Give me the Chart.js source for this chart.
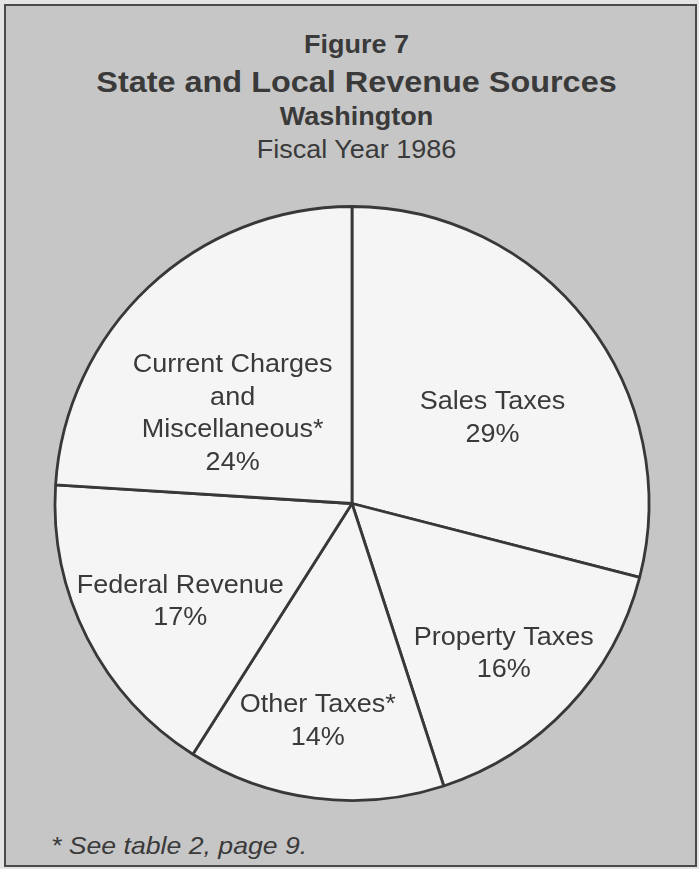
<!DOCTYPE html>
<html>
<head>
<meta charset="utf-8">
<script src="https://cdn.jsdelivr.net/npm/chart.js@4.4.1/dist/chart.umd.min.js"></script>
<style>
  html, body { margin: 0; padding: 0; }
  body { width: 699px; height: 869px; background: #e4e4e4; position: relative; overflow: hidden;
         font-family: "Liberation Sans", Arial, Helvetica, sans-serif; color: #3a3a3a; }
  .frame { position: absolute; left: 4px; top: 4px; width: 689px; height: 859px;
           border: 2px solid #4a4a4a; background: #c6c6c6; }
  .head { position: absolute; left: 7px; width: 699px; text-align: center; white-space: nowrap;
          line-height: 1; transform: scaleX(1.08); transform-origin: 50% 50%; }
  #fig { top: 32px; font-weight: bold; font-size: 25px; }
  #ttl { top: 67px; font-weight: bold; font-size: 30px; }
  #loc { top: 104px; font-weight: bold; font-size: 25px; }
  #yr  { top: 137px; font-size: 25px; }
  #note { position: absolute; left: 51px; top: 834px; font-style: italic; font-size: 24px;
          line-height: 1; white-space: nowrap; transform: scaleX(1.11); transform-origin: 0 50%; }
  #wrap { position: absolute; left: 0; top: 0; width: 699px; height: 869px; }
</style>
</head>
<body>
<div class="frame"></div>
<div class="head" id="fig">Figure 7</div>
<div class="head" id="ttl">State and Local Revenue Sources</div>
<div class="head" id="loc">Washington</div>
<div class="head" id="yr">Fiscal Year 1986</div>
<div id="note">* See table 2, page 9.</div>
<div id="wrap"><canvas id="pie"></canvas></div>
<script>
// Revenue shares, percent of total (clockwise from 12 o'clock)
const categories = ["Sales Taxes", "Property Taxes", "Other Taxes*", "Federal Revenue", "Current Charges and Miscellaneous*"];
const shares = [29, 16, 14, 17, 24];
// Text lines printed inside each slice (the share is added as the last line)
const labelLines = [
  ["Sales Taxes"],
  ["Property Taxes"],
  ["Other Taxes*"],
  ["Federal Revenue"],
  ["Current Charges", "and", "Miscellaneous*"]
];
// Where each slice's text block sits: angle shift from the slice middle (deg) and fraction of radius
const labelPlace = [
  { dAngle: 5.4,  r: 0.56 },
  { dAngle: 0.8,  r: 0.71 },
  { dAngle: 1.9,  r: 0.73 },
  { dAngle: -1.8, r: 0.66 },
  { dAngle: -8.8, r: 0.51 }
];

const sliceText = {
  id: 'sliceText',
  afterDatasetsDraw(chart) {
    const ctx = chart.ctx;
    const meta = chart.getDatasetMeta(0);
    const lineH = 32.5;
    ctx.save();
    ctx.fillStyle = '#3a3a3a';
    ctx.font = '25px "Liberation Sans", Arial, sans-serif';
    ctx.textAlign = 'center';
    ctx.textBaseline = 'alphabetic';
    meta.data.forEach((arc, i) => {
      const p = arc.getProps(['x', 'y', 'startAngle', 'endAngle', 'outerRadius'], true);
      const mid = (p.startAngle + p.endAngle) / 2 + labelPlace[i].dAngle * Math.PI / 180;
      const rr = p.outerRadius * labelPlace[i].r;
      const cx = p.x + Math.cos(mid) * rr;
      const cy = p.y + Math.sin(mid) * rr;
      const lines = labelLines[i].concat([shares[i] + '%']);
      const top = cy - (lines.length - 1) * lineH / 2;
      lines.forEach((t, k) => {
        ctx.save();
        // baseline sits half a cap height below the line's centre
        ctx.translate(cx, top + k * lineH + 11);
        ctx.scale(1.08, 1);
        ctx.fillText(t, 0, 0);
        ctx.restore();
      });
    });
    ctx.restore();
  }
};

new Chart(document.getElementById('pie'), {
  type: 'pie',
  data: {
    labels: categories,
    datasets: [{
      data: shares,
      backgroundColor: '#f5f5f5',
      borderColor: '#383838',
      borderWidth: 2.8,
      borderAlign: 'center',
      radius: 297
    }]
  },
  options: {
    responsive: true,
    maintainAspectRatio: false,
    animation: false,
    events: [],
    layout: { padding: { left: 40, right: 35, top: 190, bottom: 52 } },
    plugins: { legend: { display: false }, tooltip: { enabled: false }, title: { display: false } }
  },
  plugins: [sliceText]
});
</script>
</body>
</html>
